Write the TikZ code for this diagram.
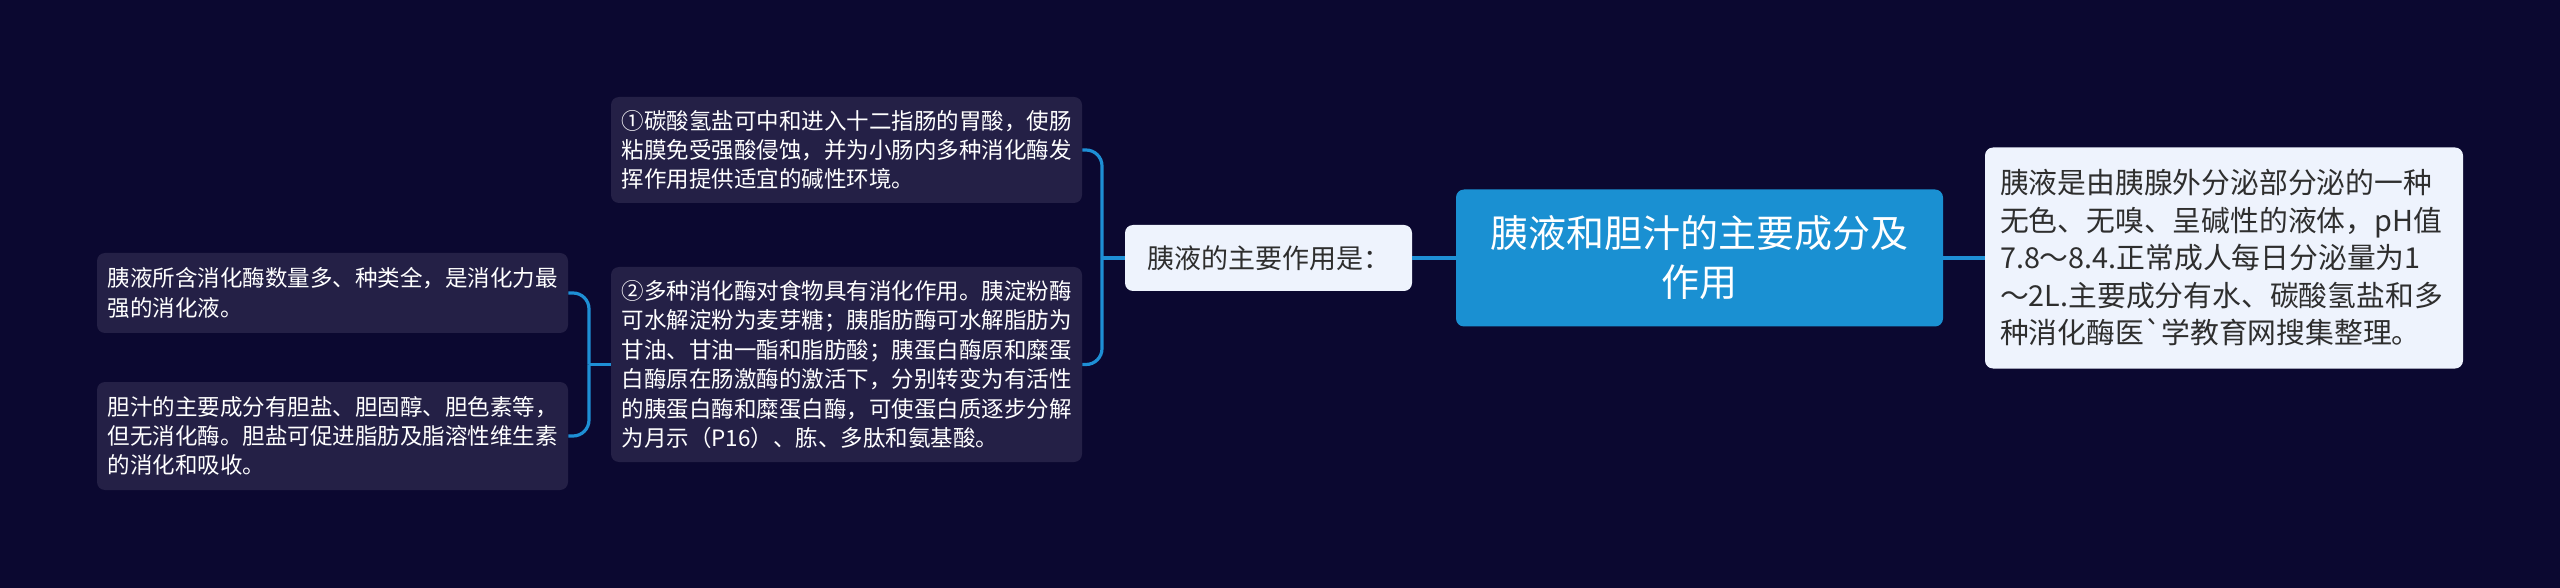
\documentclass[tikz,border=0pt]{standalone}
\usepackage{fontspec}
\newfontfamily\cjk{Noto Sans CJK SC}[Ligatures=TeXOff]
\definecolor{bgnavy}{HTML}{0B0830}
\definecolor{darkfill}{HTML}{242046}
\definecolor{rootblue}{HTML}{1A90D2}
\definecolor{palefill}{HTML}{EEF3FD}
\definecolor{linkblue}{HTML}{1E8FD5}
\tikzset{
  darkbox/.style={fill=darkfill,rounded corners=4pt,inner sep=0pt,text=white,align=left,text width=225pt,minimum width=235.5pt,font=\cjk\fontsize{11.25pt}{14.7pt}\selectfont},
  palebox/.style={fill=palefill,rounded corners=4pt,inner sep=0pt,text=black!82},
  rootbox/.style={fill=rootblue,rounded corners=4pt,inner sep=0pt,text=white,align=center,minimum width=243.5pt,minimum height=68.5pt,font=\cjk\fontsize{19pt}{24.5pt}\selectfont},
  link/.style={draw=linkblue,line width=1.6pt}
}
\begin{document}
\begin{tikzpicture}[x=0.5pt,y=-0.5pt]
\fill[bgnavy] (0,0) rectangle (2560,588);
\node[rootbox] (root) at (1699.5,258) {胰液和胆汁的主要成分及\\作用};
\node[palebox,align=center,minimum width=143.5pt,minimum height=33pt,font=\cjk\fontsize{13.5pt}{16pt}\selectfont] (main) at (1268.5,258) {胰液的主要作用是：};
\node[palebox,align=left,text width=224pt,minimum width=239pt,minimum height=110.5pt,font=\cjk\fontsize{14.4pt}{18.75pt}\selectfont] (note) at (2224,258) {胰液是由胰腺外分泌部分泌的一种\\无色、无嗅、呈碱性的液体，pH值\\7.8～8.4.正常成人每日分泌量为1\\～2L.主要成分有水、碳酸氢盐和多\\种消化酶医`学教育网搜集整理。};
\node[darkbox,minimum height=53pt] (c1) at (846.5,150) {①碳酸氢盐可中和进入十二指肠的胃酸，使肠\\粘膜免受强酸侵蚀，并为小肠内多种消化酶发\\挥作用提供适宜的碱性环境。};
\node[darkbox,minimum height=97.5pt] (c2) at (846.5,364.5) {②多种消化酶对食物具有消化作用。胰淀粉酶\\可水解淀粉为麦芽糖；胰脂肪酶可水解脂肪为\\甘油、甘油一酯和脂肪酸；胰蛋白酶原和糜蛋\\白酶原在肠激酶的激活下，分别转变为有活性\\的胰蛋白酶和糜蛋白酶，可使蛋白质逐步分解\\为月示（P16）、胨、多肽和氨基酸。};
\node[darkbox,minimum height=40pt] (l1) at (332.5,293) {胰液所含消化酶数量多、种类全，是消化力最\\强的消化液。};
\node[darkbox,minimum height=54pt] (l2) at (332.5,436) {胆汁的主要成分有胆盐、胆固醇、胆色素等，\\但无消化酶。胆盐可促进脂肪及脂溶性维生素\\的消化和吸收。};
\coordinate (j1) at (1102,258);
\coordinate (j2) at (589,364.5);
\draw[link] (root.west) -- (main.east);
\draw[link] (root.east) -- (note.west);
\draw[link] (main.west) -- (j1);
\draw[link,rounded corners=8pt] (j1) |- (c1.east);
\draw[link,rounded corners=8pt] (j1) |- (c2.east);
\draw[link] (c2.west) -- (j2);
\draw[link,rounded corners=8pt] (j2) |- (l1.east);
\draw[link,rounded corners=8pt] (j2) |- (l2.east);
\end{tikzpicture}
\end{document}
